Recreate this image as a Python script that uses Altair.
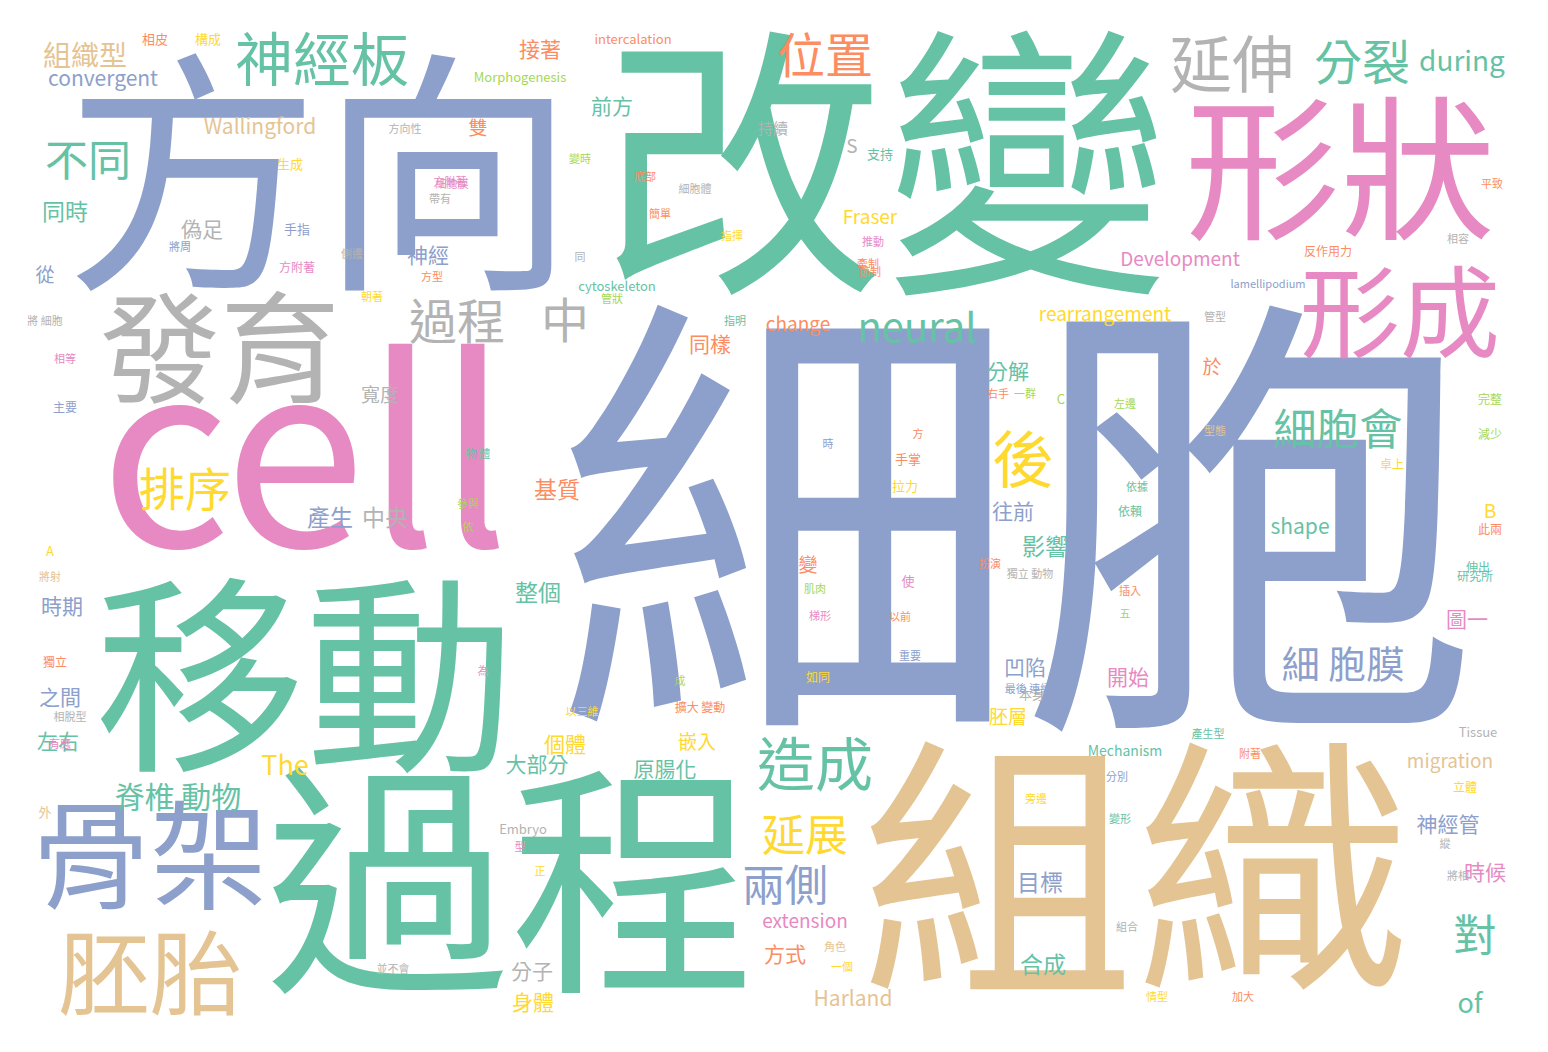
import pandas as pd
import altair as alt

G, O, B, P, L, Y, T, R = "#66c2a5", "#fc8d62", "#8da0cb", "#e78ac3", "#a6d854", "#ffd92f", "#e5c494", "#b3b3b3"

# word, center x, center y (pixels in the picture), font size, colour
words = ["細胞", "改變", "方向", "cell", "組織", "過程", "移動", "形狀", "形成", "發育",
         "骨架", "胚胎", "神經板", "延伸", "分裂", "during", "位置", "過程", "中", "neural",
         "後", "細胞會", "排序", "造成", "延展", "兩側", "細 胞膜", "不同", "組織型", "convergent",
         "Wallingford", "同時", "對", "of", "脊椎 動物", "The", "整個", "產生", "中央", "基質",
         "大部分", "原腸化", "個體", "分子", "身體", "方式", "Harland", "extension", "合成", "目標",
         "神經管", "時候", "migration", "圖一", "shape", "影響", "往前", "分解", "rearrangement", "Development",
         "Fraser", "change", "同樣", "前方", "接著", "intercalation", "Morphogenesis", "偽足", "神經", "寬度",
         "時期", "之間", "左右", "凹陷", "開始", "胚層", "嵌入", "cytoskeleton", "Mechanism", "Tissue",
         "Embryo", "雙", "持續", "從", "於", "變", "B", "S", "A", "C",
         "相皮", "構成", "生成", "支持", "手指", "方附著", "手掌", "拉力", "依賴", "伸出",
         "研究所", "完整", "減少", "平致", "相容", "反作用力", "lamellipodium", "管型", "卓上", "此兩",
         "立體", "將相", "縱", "加大", "情型", "組合", "變形", "旁邊", "分別", "附著",
         "產生型", "角色", "一個", "並不會", "型", "正", "外", "將射", "獨立", "有應",
         "相脫型", "以三維", "為", "成", "擴大 變動", "本身", "最後 連續", "使", "以前", "梯形",
         "如同", "重要", "依據", "插入", "五", "肌肉", "時", "方", "較", "參與",
         "依", "物 體", "指揮", "主要", "相等", "朝著", "側邊", "管狀", "指明", "同",
         "簡單", "底部", "細胞體", "細胞膜", "方向性", "變時", "將周", "方附著", "節制", "推動",
         "方型", "將 細胞", "型態", "帶有", "牽制", "左邊", "一群", "右手", "獨立 動物", "扮演"]
xs = [1020, 885, 320, 305, 1135, 510, 305, 1340, 1400, 220,
      150, 150, 322, 1232, 1362, 1462, 825, 457, 565, 917,
      1023, 1338, 185, 815, 805, 785, 1343, 88, 85, 103,
      260, 65, 1475, 1470, 178, 285, 538, 330, 385, 557,
      537, 665, 565, 532, 533, 785, 853, 805, 1043, 1040,
      1448, 1485, 1450, 1467, 1300, 1045, 1013, 1008, 1105, 1180,
      870, 798, 710, 612, 540, 633, 520, 202, 428, 380,
      62, 60, 58, 1025, 1128, 1008, 697, 617, 1125, 1478,
      523, 478, 773, 45, 1212, 808, 1490, 852, 50, 1061,
      155, 208, 290, 880, 297, 297, 908, 905, 1130, 1478,
      1475, 1490, 1490, 1492, 1458, 1328, 1268, 1215, 1392, 1490,
      1465, 1458, 1445, 1243, 1157, 1127, 1120, 1036, 1117, 1250,
      1208, 835, 842, 393, 520, 540, 45, 50, 55, 60,
      70, 582, 483, 680, 700, 1032, 1028, 908, 900, 820,
      818, 910, 1137, 1130, 1125, 815, 828, 918, 470, 468,
      468, 478, 732, 65, 65, 372, 352, 612, 735, 580,
      660, 645, 695, 452, 405, 580, 180, 450, 870, 873,
      432, 45, 1215, 440, 868, 1125, 1025, 998, 1030, 990]
ys = [555, 185, 192, 470, 890, 900, 692, 180, 320, 358,
      865, 980, 64, 69, 66, 63, 59, 325, 324, 330,
      464, 432, 492, 769, 838, 888, 667, 163, 58, 80,
      128, 213, 938, 1005, 799, 767, 594, 519, 519, 491,
      766, 771, 746, 973, 1004, 956, 1000, 922, 966, 884,
      826, 874, 762, 621, 528, 548, 513, 373, 315, 260,
      218, 325, 346, 108, 51, 40, 78, 231, 257, 396,
      608, 699, 743, 669, 679, 718, 743, 287, 752, 733,
      830, 129, 129, 276, 368, 566, 512, 147, 552, 400,
      40, 40, 165, 155, 230, 268, 460, 487, 512, 568,
      577, 400, 435, 185, 240, 252, 285, 318, 465, 530,
      788, 877, 845, 998, 998, 928, 820, 800, 778, 755,
      735, 948, 968, 970, 848, 872, 813, 578, 663, 745,
      718, 713, 672, 682, 708, 695, 690, 582, 618, 617,
      678, 657, 488, 592, 615, 590, 445, 435, 417, 505,
      528, 455, 237, 408, 360, 298, 255, 300, 322, 258,
      215, 178, 190, 185, 130, 160, 248, 183, 273, 243,
      278, 322, 432, 200, 265, 405, 395, 395, 575, 565]
sizes = [465, 285, 255, 255, 275, 245, 210, 155, 100, 120,
         118, 92, 58, 62, 48, 28, 48, 48, 48, 40,
         62, 43, 46, 58, 43, 43, 38, 43, 28, 21,
         21, 23, 43, 27, 30, 27, 23, 23, 23, 23,
         21, 21, 21, 21, 21, 21, 21, 19, 23, 23,
         21, 21, 19, 21, 21, 23, 21, 21, 19, 19,
         19, 19, 21, 21, 21, 13, 13, 21, 21, 19,
         21, 21, 21, 21, 21, 19, 19, 13, 14, 13,
         13, 19, 15, 19, 19, 19, 19, 19, 13, 13,
         13, 13, 13, 13, 13, 12, 13, 13, 12, 12,
         12, 12, 12, 11, 11, 12, 11, 11, 12, 12,
         12, 11, 11, 11, 11, 11, 11, 11, 11, 11,
         11, 11, 11, 11, 11, 11, 13, 11, 12, 11,
         11, 11, 11, 11, 12, 13, 11, 13, 11, 11,
         12, 11, 11, 11, 11, 11, 11, 11, 11, 11,
         11, 11, 11, 12, 11, 11, 11, 11, 11, 11,
         11, 11, 11, 11, 11, 11, 11, 11, 11, 11,
         11, 11, 11, 11, 11, 11, 11, 11, 11, 11]
colors = [B, G, B, P, T, G, G, P, P, R,
          B, T, G, R, G, G, O, R, R, G,
          Y, G, Y, G, Y, B, B, G, T, B,
          T, G, G, G, G, Y, G, B, R, O,
          G, G, Y, R, Y, O, T, P, G, B,
          B, P, T, P, G, G, B, G, Y, P,
          Y, O, O, G, O, O, L, R, B, R,
          B, B, G, B, P, Y, Y, G, G, R,
          R, O, R, B, O, O, Y, R, Y, L,
          O, Y, Y, G, B, P, O, Y, G, G,
          G, L, L, O, R, O, B, R, Y, O,
          Y, R, R, O, Y, R, G, Y, B, O,
          G, T, Y, R, P, Y, T, T, O, P,
          R, Y, P, L, O, R, B, P, O, P,
          Y, B, G, O, L, L, B, O, P, L,
          L, G, Y, B, P, Y, R, L, G, R,
          O, O, R, P, R, L, B, P, O, P,
          O, R, T, R, O, L, L, O, R, O]

df = pd.DataFrame({"word": words, "x": xs, "y": ys, "size": sizes, "color": colors})

chart = alt.Chart(df).mark_text(
    font="Noto Sans CJK TC", align="center", baseline="middle"
).encode(
    x=alt.X("x:Q", scale=alt.Scale(domain=[8, 1540]), axis=None),
    y=alt.Y("y:Q", scale=alt.Scale(domain=[8, 1044], reverse=True), axis=None),
    text="word:N",
    size=alt.Size("size:Q", scale=None),
    color=alt.Color("color:N", scale=None),
).properties(
    width=1532, height=1036, padding=0, autosize="none", background="white"
).configure_view(stroke=None)

chart.save("out.html", embed_options={"renderer": "svg", "actions": False})
